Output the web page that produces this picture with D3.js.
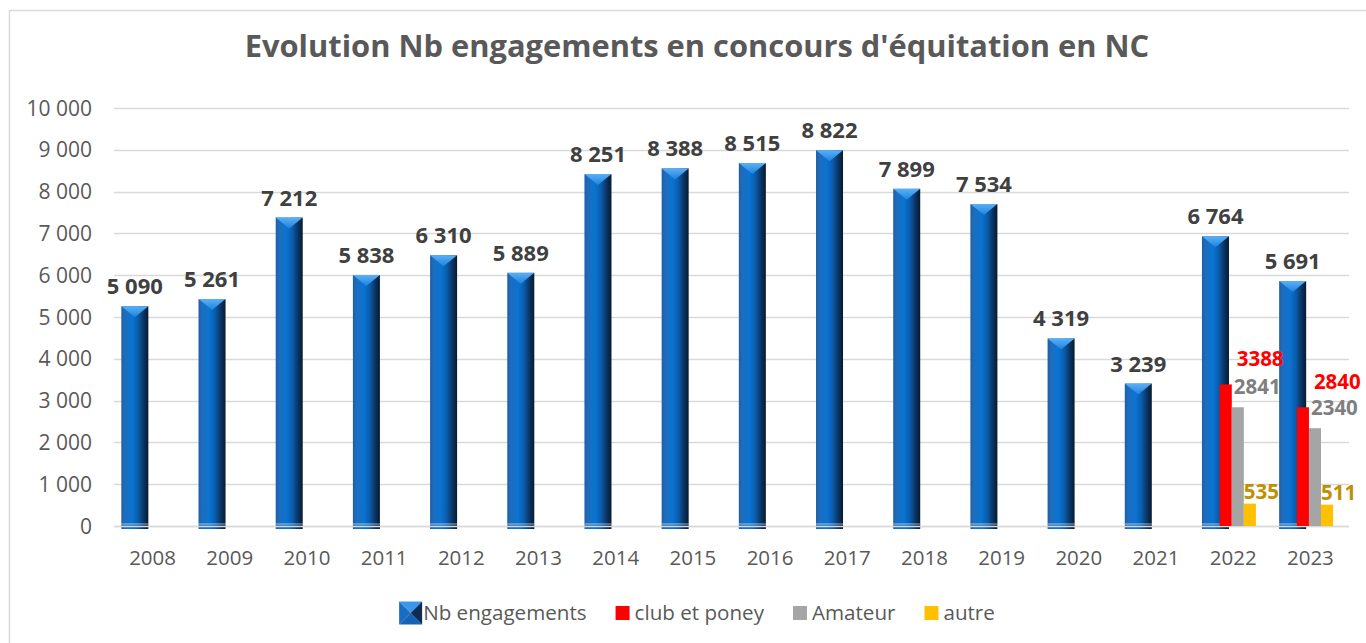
<!DOCTYPE html>
<html lang="fr">
<head>
<meta charset="utf-8">
<script src="https://d3js.org/d3.v7.min.js"></script>
<style>
  body { margin: 0; background: #fff; }
  text { font-family: "Open Sans", sans-serif; }
</style>
</head>
<body>
<div id="chart"></div>
<script>
// data
const years = ["2008","2009","2010","2011","2012","2013","2014","2015","2016","2017","2018","2019","2020","2021","2022","2023"];
const engagements = [5090, 5261, 7212, 5838, 6310, 5889, 8251, 8388, 8515, 8822, 7899, 7534, 4319, 3239, 6764, 5691];
const detailYears = ["2022", "2023"];
const clubPoney = [3388, 2840];
const amateur = [2841, 2340];
const autre = [535, 511];
const yTicks = [0, 1000, 2000, 3000, 4000, 5000, 6000, 7000, 8000, 9000, 10000];
const seriesNames = ["Nb engagements", "club et poney", "Amateur", "autre"];

const W = 1366, H = 643;
const margin = { left: 114, right: 17, top: 108, bottom: 117 };
const bevel = 7; // raised cap of the blue bars

const svg = d3.select("#chart").append("svg")
  .attr("width", W).attr("height", H);

// chart area border
svg.append("rect")
  .attr("x", 9.5).attr("y", 10.5)
  .attr("width", W + 20).attr("height", H + 20)
  .attr("fill", "#fff").attr("stroke", "#d9d9d9").attr("stroke-width", 1.5);

// title (fitted to the width it has in the picture)
const title = svg.append("text")
  .attr("x", 697).attr("y", 57)
  .attr("text-anchor", "middle")
  .style("font-weight", "bold").style("font-size", "30px")
  .attr("fill", "#595959")
  .text("Evolution Nb engagements en concours d'équitation en NC");
const tl = title.node().getComputedTextLength();
title.style("font-size", (30 * 905 / tl) + "px");

const x = d3.scaleBand().domain(years).range([margin.left, W - margin.right]);
const y = d3.scaleLinear().domain([0, 10000]).range([H - margin.bottom, margin.top]);
const sub = d3.scaleBand().domain(seriesNames).range([0, x.bandwidth()])
  .paddingOuter(1.2).align(0.45);

const fr = d3.formatLocale({ decimal: ",", thousands: "\u00a0", grouping: [3], currency: ["", "€"] });
const fmt = fr.format(",d");

// gridlines
svg.append("g").selectAll("line").data(yTicks).join("line")
  .attr("x1", margin.left).attr("x2", W - margin.right)
  .attr("y1", d => Math.round(y(d)) + 0.5).attr("y2", d => Math.round(y(d)) + 0.5)
  .attr("stroke", "#d9d9d9").attr("stroke-width", 1.3);

// y axis labels
svg.append("g").selectAll("text").data(yTicks).join("text")
  .attr("x", 92).attr("y", d => y(d)).attr("dy", "0.36em")
  .attr("text-anchor", "end")
  .style("font-size", "21px").attr("fill", "#595959")
  .text(d => fmt(d));

// x axis labels
svg.append("g").selectAll("text").data(years).join("text")
  .attr("x", d => x(d) + x.bandwidth() / 2).attr("y", 565)
  .attr("text-anchor", "middle")
  .style("font-size", "20.5px").attr("fill", "#595959")
  .text(d => d);

// gradients for the bevelled blue bars
const defs = svg.append("defs");
const g1 = defs.append("linearGradient").attr("id", "blueBody").attr("x1", "0").attr("x2", "1").attr("y1", "0").attr("y2", "0");
[[0, "#1b5fa8"], [0.12, "#1f6cbc"], [0.4, "#0a74d2"], [0.62, "#0a5cab"], [0.82, "#0b3563"], [1, "#061a30"]]
  .forEach(s => g1.append("stop").attr("offset", s[0]).attr("stop-color", s[1]));
const g2 = defs.append("linearGradient").attr("id", "blueCap").attr("x1", "0").attr("x2", "0").attr("y1", "0").attr("y2", "1");
[[0, "#5ab0f7"], [1, "#1f82dc"]]
  .forEach(s => g2.append("stop").attr("offset", s[0]).attr("stop-color", s[1]));

const blueW = x.bandwidth() * 0.35;
const blueX = d => x(d) + x.bandwidth() * 0.095;
const base = y(0);

const blue = svg.append("g").selectAll("g")
  .data(years.map((yr, i) => ({ yr, v: engagements[i] })))
  .join("g");

blue.append("rect")
  .attr("x", d => blueX(d.yr)).attr("width", blueW)
  .attr("y", d => y(d.v) - bevel)
  .attr("height", d => base - y(d.v) + bevel + 3)
  .attr("fill", "url(#blueBody)");

blue.append("polygon")
  .attr("points", d => {
    const l = blueX(d.yr), r = l + blueW, t = y(d.v) - bevel;
    return `${l},${t} ${r},${t} ${l + blueW / 2},${t + 11}`;
  })
  .attr("fill", "url(#blueCap)");

blue.append("line")
  .attr("x1", d => blueX(d.yr)).attr("x2", d => blueX(d.yr) + blueW)
  .attr("y1", base - 2).attr("y2", base - 2)
  .attr("stroke", "#ffffff").attr("stroke-width", 1).attr("opacity", 0.6);

// redraw the base line over the bars
svg.append("line")
  .attr("x1", margin.left).attr("x2", W - margin.right)
  .attr("y1", Math.round(base) + 0.5).attr("y2", Math.round(base) + 0.5)
  .attr("stroke", "#d9d9d9").attr("stroke-width", 1.5);

blue.append("text")
  .attr("x", d => blueX(d.yr) + blueW / 2)
  .attr("y", d => y(d.v) - bevel - 12)
  .attr("text-anchor", "middle")
  .style("font-size", "22px").style("font-weight", "bold")
  .attr("fill", "#404040")
  .text(d => fmt(d.v));

// detail series for 2022-2023
const detail = [
  { name: "club et poney", values: clubPoney, color: "#ff0000", label: "#ff0000", dx: 17, dy: 18 },
  { name: "Amateur", values: amateur, color: "#a5a5a5", label: "#7f7f7f", dx: 2, dy: 13 },
  { name: "autre", values: autre, color: "#ffc000", label: "#bf9000", dx: 0, dy: 5 }
];

detail.forEach(s => {
  const gs = svg.append("g");
  const pts = detailYears.map((yr, i) => ({ yr, v: s.values[i] }));
  gs.selectAll("rect").data(pts).join("rect")
    .attr("x", d => x(d.yr) + sub(s.name))
    .attr("width", sub.bandwidth())
    .attr("y", d => y(d.v))
    .attr("height", d => base - y(d.v))
    .attr("fill", s.color);
  gs.selectAll("text").data(pts).join("text")
    .attr("x", d => x(d.yr) + sub(s.name) + s.dx)
    .attr("y", d => y(d.v) - s.dy)
    .style("font-size", "20.5px").style("font-weight", "bold")
    .attr("fill", s.label)
    .text(d => d.v);
});

// legend
const legend = svg.append("g");
const items = [
  { name: seriesNames[0], color: null },
  { name: seriesNames[1], color: "#ff0000" },
  { name: seriesNames[2], color: "#a5a5a5" },
  { name: seriesNames[3], color: "#ffc000" }
];
let lx = 0;
const ly = 613;
const gap = 29;
items.forEach(it => {
  const g = legend.append("g").attr("transform", `translate(${lx},0)`);
  let textX;
  if (it.color === null) {
    const s = 23, t = ly - s / 2;
    g.append("polygon").attr("points", `0,${t} ${s},${t} ${s / 2},${t + s / 2}`).attr("fill", "#3a98ec");
    g.append("polygon").attr("points", `0,${t + s} ${s},${t + s} ${s / 2},${t + s / 2}`).attr("fill", "#1662b3");
    g.append("polygon").attr("points", `0,${t} 0,${t + s} ${s / 2},${t + s / 2}`).attr("fill", "#1a6cc2");
    g.append("polygon").attr("points", `${s},${t} ${s},${t + s} ${s / 2},${t + s / 2}`).attr("fill", "#0b2d55");
    textX = s + 1;
  } else {
    g.append("rect").attr("x", 0).attr("y", ly - 7).attr("width", 14).attr("height", 14).attr("fill", it.color);
    textX = 19;
  }
  const t = g.append("text").attr("x", textX).attr("y", ly).attr("dy", "0.36em")
    .style("font-size", "20.6px").attr("fill", "#595959").text(it.name);
  lx += textX + t.node().getComputedTextLength() + gap;
});
const lw = lx - gap;
legend.attr("transform", `translate(${697 - lw / 2},0)`);
</script>
</body>
</html>
